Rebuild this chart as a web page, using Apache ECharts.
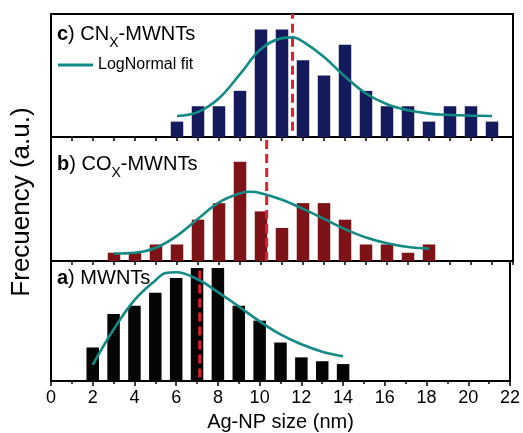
<!DOCTYPE html>
<html>
<head>
<meta charset="utf-8">
<script src="https://cdn.jsdelivr.net/npm/echarts@6/dist/echarts.min.js"></script>
<style>
html,body{margin:0;padding:0;background:#fff;}
#chart{width:523px;height:433px;}
</style>
</head>
<body>
<div id="chart"></div>
<script>
// ---- data ----
var xTicks = [0, 2, 4, 6, 8, 10, 12, 14, 16, 18, 20, 22];

// c) CNx-MWNTs
var sizeC = [6, 7, 8, 9, 10, 11, 12, 13, 14, 15, 16, 17, 18, 19, 20, 21];
var countC = [1, 2, 2, 3, 7, 7, 5, 4, 6, 3, 2, 2, 1, 2, 2, 1];
var fitXC = [6, 7, 8, 9, 10, 11, 11.5, 12, 13, 14, 15, 16, 17, 18, 19, 20, 21];
var fitYC = [1.37, 1.63, 2.52, 4.09, 5.72, 6.43, 6.48, 6.2, 5.2, 3.93, 2.83, 2.13, 1.74, 1.52, 1.43, 1.39, 1.37];
var meanC = 11.5;

// b) COx-MWNTs
var sizeB = [3, 4, 5, 6, 7, 8, 9, 10, 11, 12, 13, 14, 15, 16, 17, 18];
var countB = [1, 1, 2, 2, 5, 7, 12, 6, 4, 7, 7, 5, 2, 2, 1, 2];
var fitXB = [3, 4, 5, 6, 7, 8, 9, 9.5, 10, 11, 12, 13, 14, 15, 16, 17, 18];
var fitYB = [0.9, 1.0, 1.6, 3.05, 5.1, 7.1, 8.2, 8.37, 8.2, 7.4, 6.3, 5.1, 3.86, 2.85, 2.15, 1.7, 1.5];
var meanB = 10.27;

// a) MWNTs
var sizeA = [2, 3, 4, 5, 6, 7, 8, 9, 10, 11, 12, 13, 14];
var countA = [9.5, 19, 21.3, 25, 29.2, 32, 32, 21.3, 17.1, 10.9, 6.7, 5.6, 4.8];
var fitXA = [2, 3, 4, 5, 5.5, 6, 7, 8, 9, 10, 11, 12, 13, 14];
var fitYA = [4.6, 14.6, 22.9, 28.5, 30.6, 30.8, 28.9, 25.2, 21.1, 16.9, 13.2, 10.4, 8.3, 7.0];
var meanA = 7.13;

var yMax = [8, 15, 34];          // panels top->bottom
var meanSpan = [[0.4, 8], [0, 15], [1, 32]];

// ---- chart ----
var FONT = '"Liberation Sans", Arial, Helvetica, sans-serif';
var TEAL = '#138a84';
var RED = '#e5202e';

function pairs(xs, ys) { return xs.map(function (x, k) { return [x, ys[k]]; }); }

var panels = [
  { sizes: sizeC, counts: countC, fx: fitXC, fy: fitYC, mean: meanC, color: '#141a5c' },
  { sizes: sizeB, counts: countB, fx: fitXB, fy: fitYB, mean: meanB, color: '#7d1316' },
  { sizes: sizeA, counts: countA, fx: fitXA, fy: fitYA, mean: meanA, color: '#050505' }
];
var tops = [14, 137, 261];
var heights = [123, 124, 124];

var grids = [], xAxes = [], yAxes = [], series = [];
panels.forEach(function (p, i) {
  grids.push({ left: 51, right: 10, top: tops[i], height: heights[i], show: true,
    borderColor: '#000', borderWidth: 2, backgroundColor: 'transparent', containLabel: false });
  var last = (i === 2);
  xAxes.push({
    type: 'value', gridIndex: i, min: xTicks[0], max: xTicks[xTicks.length - 1],
    interval: last ? 2 : 1,
    axisLine: { show: true, onZero: false, lineStyle: { color: '#000', width: 2 } },
    axisTick: { show: true, inside: false, length: last ? 5 : 4, lineStyle: { color: '#000', width: 1.5 } },
    minorTick: last ? { show: true, splitNumber: 2, length: 3, lineStyle: { color: '#000', width: 1.5 } } : { show: false },
    splitLine: { show: false },
    axisLabel: last ? { show: true, fontSize: 18, color: '#000', fontFamily: FONT, margin: 8 } : { show: false },
    name: last ? 'Ag-NP size (nm)' : '',
    nameLocation: 'middle', nameGap: 31,
    nameTextStyle: { fontSize: 20, color: '#000', fontFamily: FONT }
  });
  yAxes.push({ type: 'value', gridIndex: i, min: 0, max: yMax[i], show: false, splitLine: { show: false } });
  series.push({
    type: 'bar', xAxisIndex: i, yAxisIndex: i, barWidth: 12.5,
    data: pairs(p.sizes, p.counts),
    itemStyle: { color: p.color }, z: 2
  });
  series.push({
    type: 'line', name: 'LogNormal fit', xAxisIndex: i, yAxisIndex: i,
    smooth: 0.4, symbol: 'none', showSymbol: false,
    data: pairs(p.fx, p.fy),
    lineStyle: { color: TEAL, width: 2.6 }, itemStyle: { color: TEAL }, z: 4
  });
  series.push({
    type: 'line', name: 'mean' + i, xAxisIndex: i, yAxisIndex: i,
    symbol: 'none', showSymbol: false, silent: true,
    data: [[p.mean, meanSpan[i][0]], [p.mean, meanSpan[i][1]]],
    lineStyle: { color: RED, width: 3, type: [9, 5] }, z: 3
  });
});

function panelLabel(letter, main, sub, tail, y) {
  return {
    type: 'text', x: 57, y: y, z: 10,
    style: {
      text: '{b|' + letter + '}{n|) ' + main + '}' + (sub ? '{s|' + sub + '}' : '') + '{n|' + tail + '}',
      verticalAlign: 'middle', align: 'left',
      rich: {
        b: { fontSize: 20, fontWeight: 'bold', fontFamily: FONT, fill: '#000', color: '#000', verticalAlign: 'top', lineHeight: 26 },
        n: { fontSize: 20, fontFamily: FONT, fill: '#000', color: '#000', verticalAlign: 'top', lineHeight: 26 },
        s: { fontSize: 14, fontFamily: FONT, fill: '#000', color: '#000', verticalAlign: 'bottom', lineHeight: 20 }
      }
    }
  };
}

var option = {
  animation: false,
  backgroundColor: '#fff',
  grid: grids,
  xAxis: xAxes,
  yAxis: yAxes,
  legend: {
    data: [{ name: 'LogNormal fit', icon: 'rect' }], left: 53, top: 52, padding: 5,
    itemWidth: 35, itemHeight: 3, itemGap: 5,
    itemStyle: { color: TEAL },
    textStyle: { fontSize: 16, color: '#000', fontFamily: FONT },
    selectedMode: false
  },
  graphic: [
    {
      type: 'text', x: 22, y: 202, rotation: Math.PI / 2, z: 10,
      style: { text: 'Frecuency (a.u.)', fontSize: 26, fontFamily: FONT, fill: '#000', align: 'center', verticalAlign: 'middle' }
    },
    panelLabel('c', 'CN', 'X', '-MWNTs', 37),
    panelLabel('b', 'CO', 'X', '-MWNTs', 167),
    panelLabel('a', 'MWNTs', '', '', 281)
  ],
  series: series
};

var chart = echarts.init(document.getElementById('chart'), null, { renderer: 'canvas' });
chart.setOption(option);
</script>
</body>
</html>
